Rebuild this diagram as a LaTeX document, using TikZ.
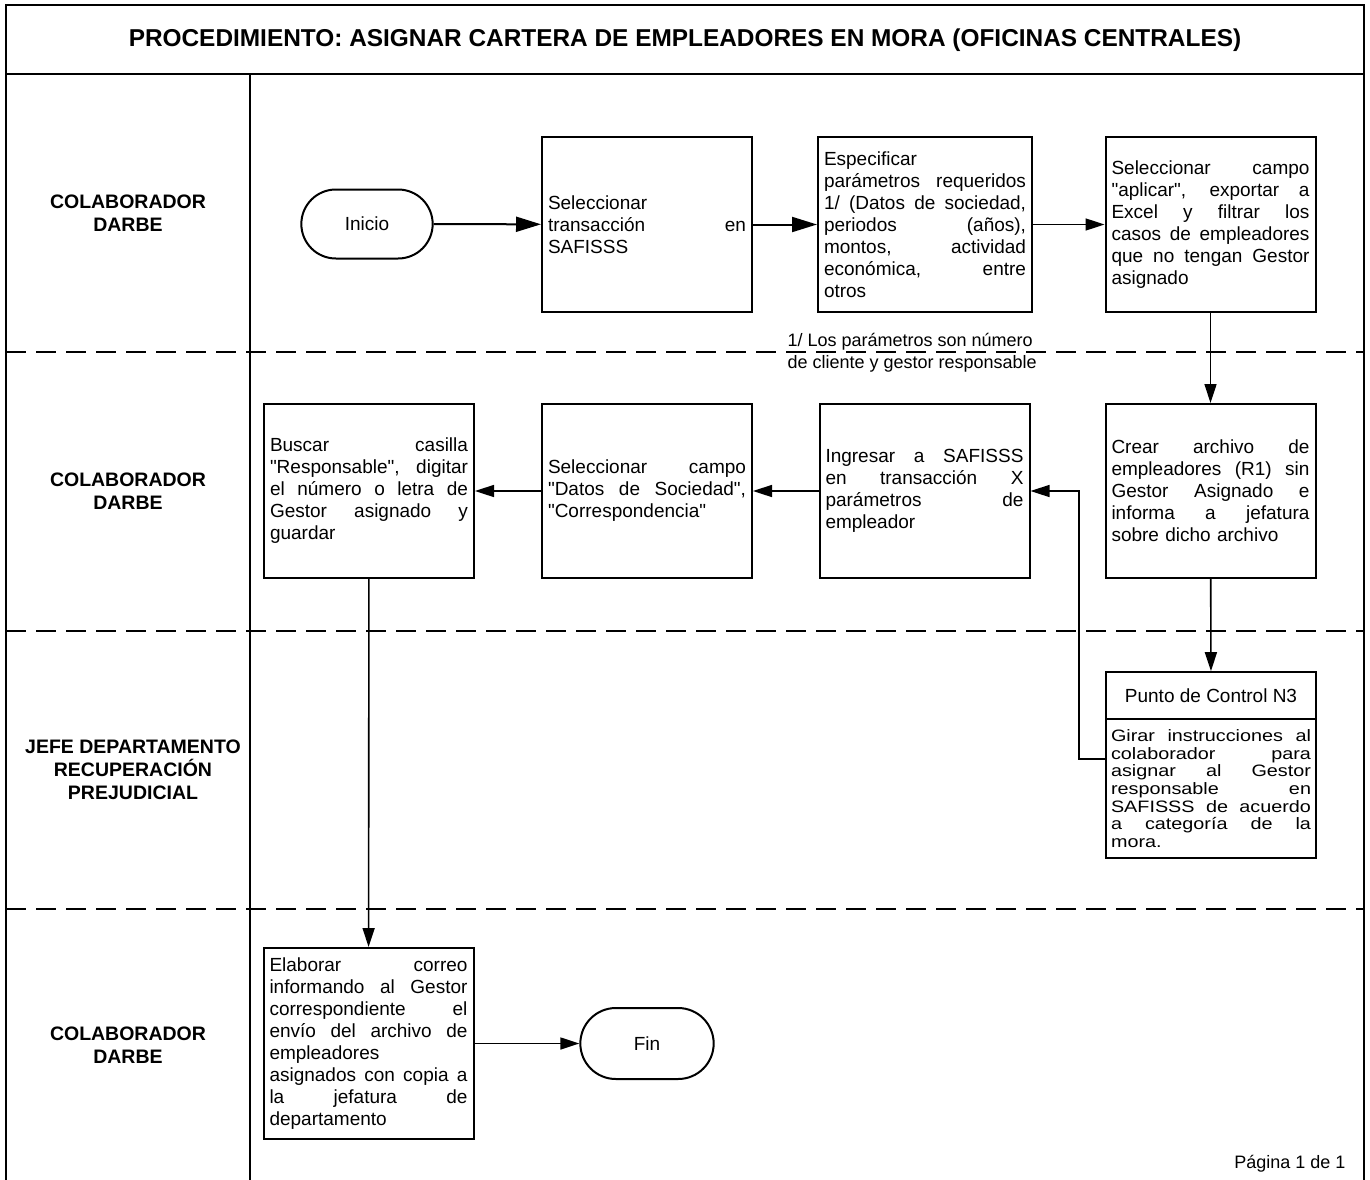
\documentclass[tikz,border=0pt]{standalone}
\usepackage{fontspec}
\setmainfont{Liberation Sans}
\newfontfamily\ctlfont[FakeStretch=1.2]{Liberation Sans}
\usetikzlibrary{arrows.meta,shapes.misc,calc}
\setlength{\parindent}{0pt}
% a fully justified line inside a node of fixed text width
\newcommand{\J}[1]{\leavevmode\hbox to\hsize{\spaceskip=0.28em plus 1fil\relax #1}}
% straight double quote, untouched by the TeX ligature mapping
\newcommand{\qt}{\XeTeXglyph\XeTeXcharglyph"22\relax}
\tikzset{
  frame/.style={line width=2.5pt},
  lanesep/.style={line width=2.5pt, dash pattern=on 20pt off 10pt},
  proc/.style={draw, line width=2pt, minimum width=210pt, minimum height=175pt,
    text width=198pt, inner xsep=6pt, align=left,
    font=\fontsize{19}{22}\selectfont},
  term/.style={draw, line width=2pt, rounded rectangle, minimum width=138pt,
    minimum height=69pt, font=\fontsize{19}{22}\selectfont},
  lane/.style={align=center, font=\fontsize{19.5}{23}\selectfont\bfseries},
  bigarr/.style={line width=2pt, -{Triangle[length=25pt,width=15pt]}},
  arr/.style={line width=1.6pt, -{Triangle[length=19pt,width=12pt]}},
}
\begin{document}
\begin{tikzpicture}[x=1pt,y=-1pt]
\useasboundingbox (0,0) rectangle (1370,1180);

% page frame, title band and lane column
\draw[frame] (6,1180) -- (6,5) -- (1364,5) -- (1364,1180);
\draw[frame] (6,74) -- (1364,74);
\draw[frame] (250,74) -- (250,1180);
\foreach \yy in {352,631,909}
  \draw[lanesep] (6,\yy) -- (1364,\yy);

\node[font=\fontsize{24.4}{27}\selectfont\bfseries] (title) at (685,40)
  {PROCEDIMIENTO: ASIGNAR CARTERA DE EMPLEADORES EN MORA (OFICINAS CENTRALES)};

% lane names
\node[lane] (l1) at (128,213) {COLABORADOR\\DARBE};
\node[lane] (l2) at (128,491) {COLABORADOR\\DARBE};
\node[lane] (l3) at (133,770) {JEFE DEPARTAMENTO\\RECUPERACIÓN\\PREJUDICIAL};
\node[lane] (l4) at (128,1045) {COLABORADOR\\DARBE};

% first lane
\node[term] (inicio) at (367,224) {Inicio};
\node[proc] (a) at (647,224.5) {Seleccionar\\\J{transacción en}\\SAFISSS};
\node[proc, minimum width=214pt, text width=202pt] (b) at (925,224.5)
  {Especificar\\\J{parámetros requeridos}\\\J{1/ (Datos de sociedad,}\\\J{periodos (años),}\\\J{montos, actividad}\\\J{económica, entre}\\otros};
\node[proc] (c) at (1210.5,224.5)
  {\J{Seleccionar campo}\\\J{\qt aplicar\qt, exportar a}\\\J{Excel y filtrar los}\\\J{casos de empleadores}\\\J{que no tengan Gestor}\\asignado};

\node[anchor=west, align=left, font=\fontsize{18}{22}\selectfont] (nota) at (784,353)
  {1/ Los parámetros son número\\de cliente y gestor responsable};

% second lane
\node[proc, minimum height=174pt] (d) at (1210.5,491)
  {\J{Crear archivo de}\\\J{empleadores (R1) sin}\\\J{Gestor Asignado e}\\\J{informa a jefatura}\\sobre dicho archivo};
\node[proc, minimum height=174pt] (g) at (924.5,491)
  {\J{Ingresar a SAFISSS}\\\J{en transacción X}\\\J{parámetros de}\\empleador};
\node[proc, minimum height=174pt] (f) at (647,491)
  {\J{Seleccionar campo}\\\J{\qt Datos de Sociedad\qt,}\\\qt Correspondencia\qt};
\node[proc, minimum height=174pt] (e) at (369,491)
  {\J{Buscar casilla}\\\J{\qt Responsable\qt, digitar}\\\J{el número o letra de}\\\J{Gestor asignado y}\\guardar};

% control point
\node[draw, line width=1.6pt, minimum width=210pt, minimum height=47pt,
  font=\fontsize{19}{22}\selectfont] (ctlhead) at (1211,695.5) {Punto de Control N3};
\node[draw, line width=1.6pt, minimum width=210pt, minimum height=139pt,
  text width=200pt, inner xsep=5pt, align=left,
  font=\ctlfont\fontsize{16.5}{17.7}\selectfont] (ctlbody) at (1211,788.5)
  {\J{Girar instrucciones al}\\\J{colaborador para}\\\J{asignar al Gestor}\\\J{responsable en}\\\J{SAFISSS de acuerdo}\\\J{a categoría de la}\\mora.};

% last lane
\node[proc, minimum height=191pt] (h) at (368.5,1043.5)
  {\J{Elaborar correo}\\\J{informando al Gestor}\\\J{correspondiente el}\\\J{envío del archivo de}\\empleadores\\\J{asignados con copia a}\\\J{la jefatura de}\\departamento};
\node[term, minimum width=140pt, minimum height=71pt] (fin) at (647,1043.5) {Fin};

\node[anchor=east, font=\fontsize{18}{22}\selectfont] (pag) at (1349,1164) {Página 1 de 1};

% connectors
\draw[bigarr] (inicio) -- (a);
\draw[bigarr] (a) -- (b);
\draw[arr] (b) -- (c);
\draw[arr] (c) -- (d);
\draw[arr] (d) -- (ctlhead);
\draw[arr] ($(ctlbody.north west)!0.29!(ctlbody.south west)$) -- ++(-26,0) |- (g.east);
\draw[arr] (g) -- (f);
\draw[arr] (f) -- (e);
\draw[arr] (e) -- (h);
\draw[arr] (h) -- (fin);
\end{tikzpicture}
\end{document}
